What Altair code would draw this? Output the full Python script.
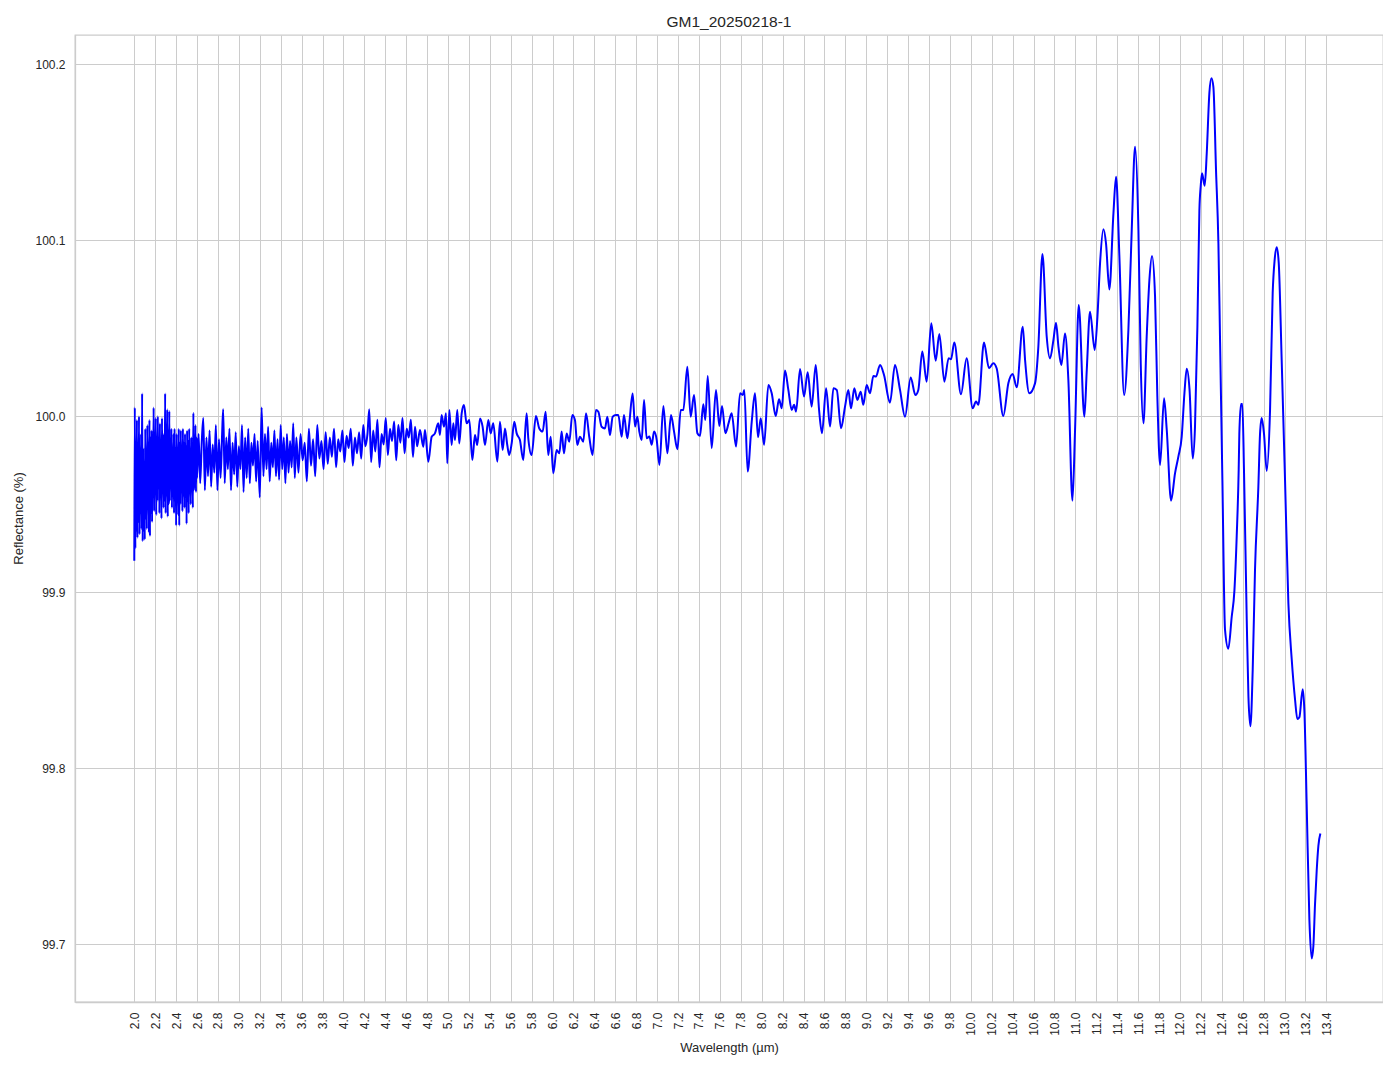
import altair as alt
import pandas as pd

# ---- data (wavelength in µm, reflectance in %) ----
WL_A = [2.000, 2.005, 2.010, 2.015, 2.020, 2.025, 2.030, 2.035, 2.040, 2.045,
        2.050, 2.055, 2.060, 2.065, 2.070, 2.075, 2.080, 2.085, 2.090, 2.095,
        2.100, 2.105, 2.110, 2.115, 2.120, 2.125, 2.130, 2.135, 2.140, 2.145,
        2.150, 2.155, 2.160, 2.165, 2.170, 2.175, 2.180, 2.185, 2.190, 2.195,
        2.200, 2.205, 2.210, 2.215, 2.220, 2.225, 2.230, 2.235, 2.240, 2.245,
        2.250, 2.255, 2.260, 2.265, 2.270, 2.275, 2.280, 2.285, 2.290, 2.295,
        2.300, 2.305, 2.310, 2.315, 2.320, 2.325, 2.330, 2.335, 2.340, 2.345,
        2.350, 2.355, 2.360, 2.365, 2.370, 2.375, 2.380, 2.385, 2.390, 2.395,
        2.400, 2.405, 2.410, 2.415, 2.420, 2.425, 2.430, 2.435, 2.440, 2.445,
        2.450, 2.455, 2.460, 2.465, 2.470, 2.475, 2.480, 2.485, 2.490, 2.495,
        2.500, 2.505, 2.510, 2.515, 2.520, 2.525, 2.530, 2.535, 2.540, 2.545,
        2.550, 2.555, 2.560, 2.565, 2.570, 2.575, 2.580, 2.585, 2.590, 2.595,
        2.600]
R_A = [99.918, 100.005, 99.925, 99.972, 99.935, 99.998, 99.931, 99.985, 99.940, 100.000,
       99.933, 99.975, 99.945, 99.990, 99.936, 100.013, 99.929, 99.982, 99.935, 99.970,
       99.930, 99.993, 99.942, 99.978, 99.936, 99.995, 99.948, 99.985, 99.934, 99.998,
       99.932, 99.988, 99.945, 99.992, 99.940, 99.980, 99.955, 100.005, 99.946, 99.990,
       99.958, 99.999, 99.944, 99.985, 99.952, 100.000, 99.960, 99.988, 99.945, 99.996,
       99.955, 99.983, 99.942, 99.999, 99.958, 99.990, 99.948, 99.985, 99.952, 100.013,
       99.945, 99.995, 99.955, 100.004, 99.943, 99.992, 99.950, 100.003, 99.952, 99.985,
       99.960, 99.993, 99.948, 99.978, 99.955, 99.990, 99.945, 99.993, 99.952, 99.982,
       99.938, 99.990, 99.955, 99.978, 99.944, 99.993, 99.938, 99.985, 99.950, 99.992,
       99.958, 99.980, 99.946, 99.993, 99.955, 99.985, 99.948, 99.990, 99.960, 99.983,
       99.939, 99.992, 99.952, 99.986, 99.945, 99.993, 99.958, 99.980, 99.950, 99.988,
       99.962, 99.985, 99.948, 100.002, 99.958, 99.985, 99.960, 99.995, 99.957, 99.988,
       99.965]

WL_B = [2.615, 2.630, 2.645, 2.660, 2.675, 2.690, 2.705, 2.720, 2.735, 2.750,
        2.765, 2.780, 2.795, 2.810, 2.825, 2.840, 2.850, 2.865, 2.880, 2.895,
        2.910, 2.925, 2.940, 2.955, 2.970, 2.985, 3.000, 3.015, 3.030, 3.045,
        3.060, 3.075, 3.090, 3.105, 3.120, 3.135, 3.150, 3.165, 3.180, 3.200,
        3.218, 3.235, 3.250, 3.265, 3.280, 3.295, 3.310, 3.325, 3.340, 3.355,
        3.370, 3.385, 3.400, 3.415, 3.430, 3.445, 3.460, 3.475, 3.490, 3.505,
        3.520, 3.535, 3.550]
R_B = [99.990, 99.962, 99.985, 99.999, 99.958, 99.988, 99.966, 99.992, 99.960, 99.984,
       99.968, 99.995, 99.958, 99.987, 99.965, 99.990, 100.004, 99.962, 99.988, 99.970,
       99.993, 99.958, 99.985, 99.967, 99.991, 99.960, 99.983, 99.970, 99.995, 99.957,
       99.988, 99.965, 99.993, 99.962, 99.985, 99.972, 99.990, 99.963, 99.986, 99.954,
       100.005, 99.966, 99.990, 99.970, 99.994, 99.963, 99.985, 99.971, 99.992, 99.966,
       99.987, 99.964, 99.995, 99.970, 99.988, 99.962, 99.990, 99.968, 99.986, 99.971,
       99.996, 99.965, 99.988]

WL_C = [3.570, 3.590, 3.610, 3.630, 3.650, 3.670, 3.690, 3.710, 3.730, 3.750,
        3.770, 3.790, 3.810, 3.830, 3.850, 3.870, 3.890, 3.910, 3.930, 3.950,
        3.970, 3.990, 4.010, 4.030, 4.050, 4.070, 4.090, 4.110, 4.130, 4.150,
        4.170, 4.190, 4.210, 4.230, 4.247, 4.265, 4.285, 4.305, 4.325, 4.345,
        4.365, 4.385, 4.405, 4.425, 4.445, 4.465, 4.485, 4.505, 4.525, 4.545,
        4.565, 4.585, 4.605, 4.625, 4.645, 4.665, 4.685, 4.705]
R_C = [99.968, 99.990, 99.975, 99.985, 99.963, 99.993, 99.972, 99.987, 99.966, 99.995,
       99.976, 99.986, 99.970, 99.991, 99.973, 99.988, 99.977, 99.993, 99.971, 99.987,
       99.980, 99.992, 99.974, 99.989, 99.982, 99.993, 99.972, 99.988, 99.979, 99.991,
       99.976, 99.995, 99.983, 99.990, 100.004, 99.974, 99.992, 99.980, 99.998, 99.971,
       99.990, 99.984, 99.999, 99.978, 99.993, 99.986, 99.997, 99.975, 99.995, 99.985,
       99.999, 99.979, 99.993, 99.988, 99.998, 99.977, 99.994, 99.983]

WL_D = [4.732, 4.764, 4.780, 4.812, 4.844, 4.875, 4.907, 4.923, 4.939, 4.962,
        4.981, 4.993, 5.013, 5.035, 5.051, 5.067, 5.089, 5.108, 5.131, 5.153,
        5.178, 5.204, 5.233, 5.258, 5.280, 5.306, 5.331, 5.354, 5.386, 5.408,
        5.433, 5.472, 5.497, 5.523, 5.545, 5.567, 5.586, 5.609, 5.634, 5.657,
        5.688, 5.720, 5.752, 5.768, 5.800, 5.841, 5.873, 5.905, 5.934, 5.959,
        5.982, 6.007, 6.039, 6.065, 6.087, 6.109, 6.135, 6.160, 6.189, 6.214,
        6.237, 6.262, 6.294, 6.320, 6.351, 6.383, 6.415, 6.438, 6.469, 6.501,
        6.524, 6.549, 6.575, 6.607, 6.629, 6.661, 6.683, 6.715, 6.734, 6.766]
R_D = [99.9922, 99.9827, 99.9922, 99.9742, 99.9884, 99.9903, 99.9960, 99.9894, 100.0007, 99.9941,
       100.0017, 99.9733, 100.0036, 99.9837, 99.9960, 99.9865, 100.0036, 99.9846, 100.0017, 100.0064,
       99.9960, 99.9979, 99.9752, 99.9894, 99.9837, 99.9988, 99.9941, 99.9837, 99.9979, 99.9903,
       99.9960, 99.9742, 99.9969, 99.9808, 99.9931, 99.9837, 99.9780, 99.9846, 99.9969, 99.9903,
       99.9865, 99.9752, 100.0017, 99.9875, 99.9780, 100.0002, 99.9931, 99.9913, 100.0026, 99.9780,
       99.9884, 99.9676, 99.9808, 99.9790, 99.9913, 99.9790, 99.9903, 99.9856, 100.0007, 99.9979,
       99.9837, 99.9884, 99.9856, 100.0017, 99.9884, 99.9780, 100.0036, 100.0026, 99.9941, 99.9931,
       99.9998, 99.9894, 99.9998, 100.0007, 100.0007, 99.9884, 100.0007, 99.9875, 99.9960, 100.0130]

WL_E = [6.789, 6.811, 6.830, 6.853, 6.875, 6.900, 6.926, 6.948, 6.971, 6.996,
        7.022, 7.060, 7.098, 7.133, 7.162, 7.194, 7.226, 7.251, 7.289, 7.321,
        7.353, 7.385, 7.410, 7.442, 7.461, 7.484, 7.522, 7.563, 7.595, 7.621,
        7.653, 7.685, 7.713, 7.755, 7.793, 7.819, 7.834, 7.866, 7.905, 7.936,
        7.965, 7.991, 8.023, 8.064, 8.096, 8.134, 8.166, 8.192, 8.223, 8.255,
        8.287, 8.310, 8.329, 8.367, 8.405, 8.440, 8.478, 8.517, 8.549, 8.577,
        8.616, 8.654, 8.686, 8.718, 8.759, 8.797, 8.829]
R_E = [99.9942, 99.9998, 99.9913, 99.9866, 100.0093, 99.9875, 99.9885, 99.9838, 99.9913, 99.9866,
       99.9724, 100.0059, 99.9790, 100.0008, 99.9913, 99.9813, 100.0036, 100.0036, 100.0282, 99.9998,
       100.0121, 99.9904, 99.9889, 100.0068, 99.9979, 100.0229, 99.9819, 100.0150, 99.9945, 100.0059,
       99.9904, 99.9964, 100.0017, 99.9828, 100.0131, 100.0121, 100.0150, 99.9686, 99.9970, 100.0131,
       99.9881, 99.9989, 99.9838, 100.0178, 100.0131, 100.0002, 100.0097, 100.0046, 100.0260, 100.0150,
       100.0036, 100.0065, 100.0027, 100.0269, 100.0112, 100.0250, 100.0055, 100.0292, 100.0036, 99.9904,
       100.0159, 99.9942, 100.0159, 100.0150, 99.9932, 100.0055, 100.0150]

WL_F = [8.854, 8.886, 8.915, 8.947, 8.972, 9.004, 9.036, 9.068, 9.093, 9.132,
        9.170, 9.227, 9.275, 9.323, 9.371, 9.425, 9.470, 9.498, 9.536, 9.578,
        9.622, 9.664, 9.699, 9.747, 9.788, 9.811, 9.842, 9.906, 9.960, 10.018,
        10.050, 10.072, 10.126, 10.174, 10.215, 10.247, 10.311, 10.359, 10.400, 10.439,
        10.497]
R_F = [100.0046, 100.0159, 100.0093, 100.0140, 100.0065, 100.0178, 100.0131, 100.0229, 100.0226, 100.0292,
       100.0235, 100.0078, 100.0292, 100.0150, 99.9998, 100.0220, 100.0121, 100.0150, 100.0368, 100.0197,
       100.0528, 100.0316, 100.0468, 100.0197, 100.0330, 100.0324, 100.0419, 100.0125, 100.0330, 100.0046,
       100.0084, 100.0065, 100.0419, 100.0273, 100.0301, 100.0273, 100.0002, 100.0188, 100.0241, 100.0165,
       100.0509]

WL_G = [10.519, 10.560, 10.614, 10.646, 10.685, 10.726, 10.758, 10.790, 10.815, 10.838,
        10.866, 10.901, 10.933, 10.972, 10.997, 11.032, 11.086, 11.109, 11.140, 11.185,
        11.211, 11.236, 11.268, 11.293, 11.325, 11.364, 11.389, 11.421, 11.466, 11.507,
        11.539, 11.571, 11.603, 11.625, 11.651, 11.682, 11.708, 11.733, 11.762, 11.784,
        11.810, 11.848, 11.874, 11.915, 11.953, 11.985, 12.017, 12.043]
R_G = [100.0320, 100.0131, 100.0187, 100.0396, 100.0922, 100.0452, 100.0329, 100.0433, 100.0532, 100.0396,
       100.0291, 100.0471, 100.0206, 99.9521, 99.9922, 100.0632, 99.9998, 100.0263, 100.0594, 100.0377,
       100.0566, 100.0869, 100.1062, 100.0982, 100.0721, 100.1153, 100.1361, 100.0907, 100.0121, 100.0490,
       100.1058, 100.1531, 100.1058, 100.0301, 99.9960, 100.0452, 100.0774, 100.0910, 100.0680, 100.0112,
       99.9724, 100.0102, 99.9922, 99.9521, 99.9676, 99.9771, 99.9884, 100.0131]

WL_H = [12.065, 12.092, 12.122, 12.144, 12.167, 12.186, 12.199, 12.211, 12.237, 12.256,
        12.282, 12.301, 12.320, 12.345, 12.368, 12.384, 12.406, 12.431, 12.463, 12.495,
        12.521, 12.543, 12.562, 12.568, 12.584, 12.597, 12.613, 12.639, 12.655, 12.674,
        12.696, 12.718, 12.750, 12.766, 12.782, 12.804, 12.830, 12.862, 12.887, 12.906,
        12.926, 12.945, 12.973, 13.005, 13.037, 13.069, 13.101, 13.123, 13.142, 13.174,
        13.190, 13.212, 13.238, 13.260, 13.276, 13.292, 13.308, 13.324, 13.343]
R_H = [100.027, 100.015, 99.976, 99.994, 100.051, 100.117, 100.131, 100.138, 100.131, 100.149,
       100.184, 100.192, 100.187, 100.140, 100.098, 100.042, 99.964, 99.879, 99.868, 99.886,
       99.901, 99.932, 99.970, 99.990, 100.007, 100.007, 99.968, 99.884, 99.841, 99.824,
       99.856, 99.913, 99.960, 99.990, 99.999, 99.990, 99.969, 100.004, 100.070, 100.089,
       100.096, 100.087, 100.032, 99.964, 99.894, 99.862, 99.839, 99.828, 99.829, 99.845,
       99.833, 99.780, 99.714, 99.692, 99.699, 99.723, 99.742, 99.756, 99.763]

X_TICKS = [2.0, 2.2, 2.4, 2.6, 2.8, 3.0, 3.2, 3.4, 3.6, 3.8, 4.0, 4.2, 4.4, 4.6, 4.8,
           5.0, 5.2, 5.4, 5.6, 5.8, 6.0, 6.2, 6.4, 6.6, 6.8, 7.0, 7.2, 7.4, 7.6, 7.8,
           8.0, 8.2, 8.4, 8.6, 8.8, 9.0, 9.2, 9.4, 9.6, 9.8, 10.0, 10.2, 10.4, 10.6,
           10.8, 11.0, 11.2, 11.4, 11.6, 11.8, 12.0, 12.2, 12.4, 12.6, 12.8, 13.0,
           13.2, 13.4]
Y_TICKS = [99.7, 99.8, 99.9, 100.0, 100.1, 100.2]

wl = WL_A + WL_B + WL_C + WL_D + WL_E + WL_F + WL_G + WL_H
refl = R_A + R_B + R_C + R_D + R_E + R_F + R_G + R_H
df = pd.DataFrame({"wl": wl, "r": refl})

FONT = "Liberation Sans"
TXT = "#262626"
GRID = "#cccccc"

chart = (
    alt.Chart(df)
    .mark_line(color="#0000ff", strokeWidth=2, interpolate="monotone", clip=True)
    .encode(
        x=alt.X(
            "wl:Q",
            sort=None,
            scale=alt.Scale(domain=[1.433, 13.942], nice=False, zero=False),
            axis=alt.Axis(
                values=X_TICKS, format=".1f", labelAngle=270, labelOverlap=False,
                labelFlush=False, labelPadding=10, ticks=False,
                title="Wavelength (µm)", titleX=654, titleY=45,
                titleBaseline="middle", titleAlign="center",
            ),
        ),
        y=alt.Y(
            "r:Q",
            scale=alt.Scale(domain=[99.6673, 100.2166], nice=False, zero=False),
            axis=alt.Axis(
                values=Y_TICKS, format=".1f", labelPadding=10, ticks=False,
                labelOverlap=False, labelFlush=False,
                title="Reflectance (%)", titleX=-57, titleY=483,
                titleAngle=270, titleBaseline="middle", titleAlign="center",
            ),
        ),
        order="wl:Q",
    )
    .properties(
        width=1308,
        height=967,
        title=alt.TitleParams(
            "GM1_20250218-1", font=FONT, fontSize=15.5, fontWeight="normal",
            color=TXT, anchor="middle", offset=7, dy=14, baseline="alphabetic",
        ),
        autosize=alt.AutoSizeParams(type="none"),
        padding={"left": 67, "top": 27, "right": 0, "bottom": 57},
    )
    .configure_view(stroke=GRID, strokeWidth=1.3)
    .configure_axis(
        grid=True, gridColor=GRID, gridWidth=1,
        domainColor=GRID, domainWidth=1.3,
        labelFont=FONT, labelFontSize=12, labelColor=TXT,
        titleFont=FONT, titleFontSize=13, titleColor=TXT, titleFontWeight="normal",
    )
)

chart.save("out.html", embed_options={"renderer": "svg", "actions": False})
